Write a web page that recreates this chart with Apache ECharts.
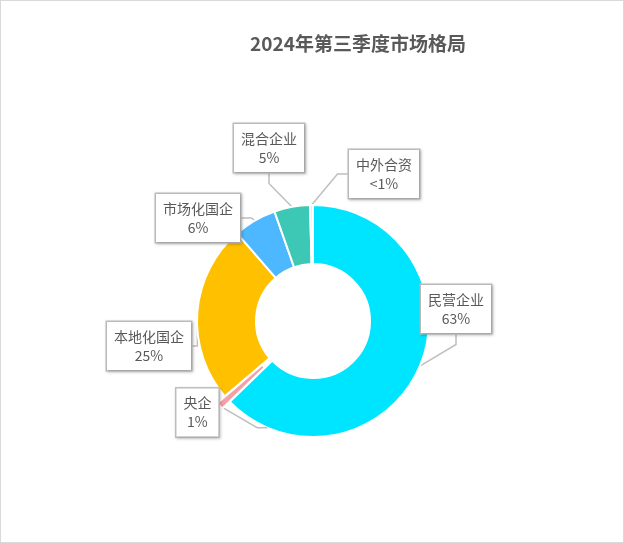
<!DOCTYPE html>
<html><head><meta charset="utf-8">
<script src="https://cdn.jsdelivr.net/npm/echarts@6/dist/echarts.min.js"></script>
<style>html,body{margin:0;padding:0;background:#fff}#c{width:624px;height:543px;box-sizing:border-box;border:1px solid #d9d9d9}</style>
</head><body><div id="c"></div>
<script>
const categories = ['民营企业','央企','本地化国企','市场化国企','混合企业','中外合资'];
const values = [63, 1, 25, 6, 5, 0.4];
const valueLabels = ['63%','1%','25%','6%','5%','<1%'];
const colors = ['#00E5FF','#F4A0A8','#FFC000','#4DB8FF','#3CC8B4','#E8E8E8'];
const labelPos = [[455,308],[296,420],[148,345],[197,217],[268,147],[383,173]];
const chart = echarts.init(document.getElementById('c'));
chart.setOption({
  animation:false,
  title:{text:'2024年第三季度市场格局',left:352,top:28,textAlign:'center',textStyle:{fontSize:19,fontWeight:'bold',color:'#595959',fontFamily:'Noto Sans CJK SC'}},
  series:[{
    type:'pie',center:[312,320],radius:[57,116],startAngle:90,clockwise:true,avoidLabelOverlap:false,
    selectedMode:'single',selectedOffset:10,
    itemStyle:{borderColor:'#fff',borderWidth:2},
    data:categories.map((n,i)=>({name:n,value:values[i],selected:i===1,itemStyle:{color:colors[i]}})),
    label:{show:true,formatter:p=>p.name+'\n'+valueLabels[p.dataIndex],color:'#595959',fontSize:14,lineHeight:19,
      fontFamily:'Noto Sans CJK SC',backgroundColor:'#fff',borderColor:'#bfbfbf',borderWidth:1.5,padding:[5,7],align:'center',
      shadowColor:'rgba(0,0,0,0.2)',shadowBlur:3,shadowOffsetX:1,shadowOffsetY:1},
    labelLine:{show:true,lineStyle:{color:'#bfbfbf',width:1.5},length:10,length2:10},
    labelLayout:p=>({x:labelPos[p.dataIndex][0],y:labelPos[p.dataIndex][1],align:'center',verticalAlign:'middle',moveOverlap:null,hideOverlap:false})
  }]
});
</script></body></html>
